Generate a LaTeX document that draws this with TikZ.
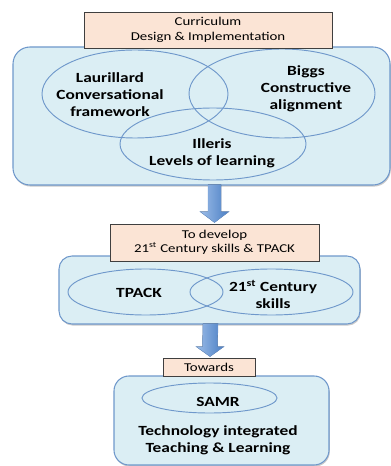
\documentclass[tikz,border=0pt]{standalone}
\usepackage{fontspec}
\setmainfont{Carlito}[FakeStretch=1.24]
\usetikzlibrary{shapes.geometric,calc,shadows}
\definecolor{boxfill}{HTML}{DBEEF4}
\definecolor{boxline}{HTML}{6F98CB}
\definecolor{lblfill}{HTML}{FBE4D5}
\definecolor{lblline}{HTML}{3F3F3F}
\definecolor{arrowlight}{HTML}{9CBDE8}
\definecolor{arrowdark}{HTML}{4A7EC4}
\tikzset{
  bigbox/.style={draw=boxline, fill=boxfill, line width=0.8pt, inner sep=0pt,
    drop shadow={shadow xshift=0.6pt, shadow yshift=-1.2pt, opacity=0.35, fill=black!60}},
  lblbox/.style={draw=lblline, fill=lblfill, line width=0.7pt, inner sep=0pt, font=\fontsize{9}{10.7}\selectfont, align=center},
  venn/.style={ellipse, draw=boxline, line width=0.7pt, inner sep=0pt},
  bold/.style={font=\bfseries\fontsize{10.5}{12.8}\selectfont, align=center, inner sep=0pt},
  fatarrow/.style={left color=arrowlight, right color=arrowdark, draw=arrowdark!80, line width=0.3pt},
}
\begin{document}
\begin{tikzpicture}[x=0.75pt,y=-0.75pt]
\useasboundingbox (0,0) rectangle (391,466);
% box 1
\node[bigbox, rounded corners=12.75pt, minimum width=377*0.75pt, minimum height=138*0.75pt] (box1) at (201.5,116) {};
\node[venn, minimum width=186*0.75pt, minimum height=88*0.75pt] (laur) at (135,94) {};
\node[venn, minimum width=186*0.75pt, minimum height=89*0.75pt] (biggs) at (282,93.5) {};
\node[venn, minimum width=186*0.75pt, minimum height=72*0.75pt] (ill) at (213,144) {};
\node[bold] (tlaur) at (110,94.5) {Laurillard\\Conversational\\framework};
\node[bold] (tbiggs) at (306,88.5) {Biggs\\Constructive\\alignment};
\node[bold] (till) at (212,153) {Illeris\\Levels of learning};
\node[lblbox, minimum width=248*0.75pt, minimum height=36*0.75pt] (lbl1) at (208,30) {Curriculum\\Design \& Implementation};
% box 2
\node[bigbox, rounded corners=9.75pt, minimum width=301*0.75pt, minimum height=68*0.75pt] (box2) at (209.5,290) {};
\node[lblbox, minimum width=209*0.75pt, minimum height=37*0.75pt] (lbl2) at (214.5,242.5) {To develop\\21\textsuperscript{st} Century skills \& TPACK};
\node[venn, minimum width=155*0.75pt, minimum height=46*0.75pt] (tpack) at (145.5,292) {};
\node[venn, minimum width=163*0.75pt, minimum height=46*0.75pt] (cent) at (271.5,292) {};
\node[bold] (ttpack) at (139,293) {TPACK};
\node[bold] (tcent) at (273,294.5) {21\textsuperscript{st} Century\\skills};
% box 3
\node[bigbox, rounded corners=11.25pt, minimum width=215*0.75pt, minimum height=89*0.75pt] (box3) at (221.5,420.5) {};
\node[lblbox, minimum width=92*0.75pt, minimum height=18*0.75pt] (lbl3) at (209,367) {Towards};
\node[venn, minimum width=135*0.75pt, minimum height=30*0.75pt] (samr) at (209.5,398) {};
\node[bold] (tsamr) at (218,402) {SAMR};
\node[bold] (ttech) at (218,440) {Technology integrated\\Teaching \& Learning};
% arrows
\coordinate (a1s) at ($(box1.south)+(13,0)$);
\coordinate (a1t) at ($(lbl2.north)+(0,-1)$);
\fill[fatarrow] ($(a1s)+(-6.5,-1)$) -- ($(a1s)+(6.5,-1)$) -- ($(a1t)+(6.5,-11)$) -- ($(a1t)+(14.5,-11)$)
  -- (a1t) -- ($(a1t)+(-14.5,-11)$) -- ($(a1t)+(-6.5,-11)$) -- cycle;
\coordinate (a2s) at ($(box2.south)+(1,0)$);
\coordinate (a2t) at ($(lbl3.north)+(1,-1)$);
\fill[fatarrow] ($(a2s)+(-7.5,-1)$) -- ($(a2s)+(7.5,-1)$) -- ($(a2t)+(7.5,-10)$) -- ($(a2t)+(14,-10)$)
  -- (a2t) -- ($(a2t)+(-14,-10)$) -- ($(a2t)+(-7.5,-10)$) -- cycle;
\end{tikzpicture}
\end{document}
